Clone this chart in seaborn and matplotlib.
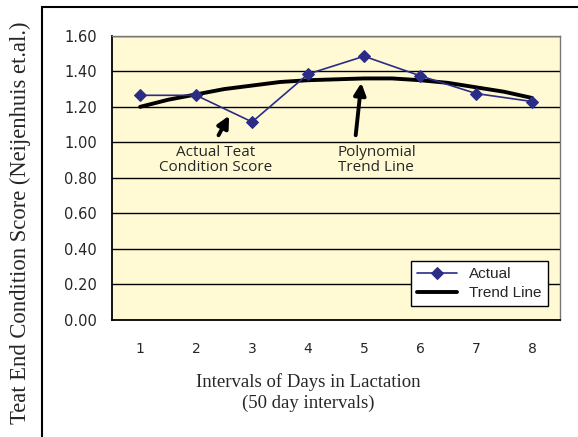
import numpy as np
import pandas as pd
import matplotlib
matplotlib.use('Agg')
import matplotlib.pyplot as plt
import seaborn as sns
from matplotlib.patches import Rectangle

sns.set_style('white')
plt.rcParams['font.family'] = ['DejaVu Sans']

# dados
intervalos = [1, 2, 3, 4, 5, 6, 7, 8]
atual = [1.265, 1.265, 1.115, 1.385, 1.485, 1.375, 1.275, 1.23]
# linha de tendência lida em meios intervalos
tend_x = [1, 1.5, 2, 2.5, 3, 3.5, 4, 4.5, 5, 5.5, 6, 6.5, 7, 7.5, 8]
tend_y = [1.20, 1.24, 1.27, 1.30, 1.32, 1.34, 1.35, 1.355, 1.36, 1.36, 1.35, 1.335, 1.31, 1.285, 1.25]

df_atual = pd.DataFrame({'x': intervalos, 'y': atual})
df_tend = pd.DataFrame({'x': tend_x, 'y': tend_y})

fig = plt.figure(figsize=(5.78, 4.37), dpi=100)
ax = fig.add_axes([0.194, 0.268, 0.775, 0.65])
ax.set_facecolor('#FFFAD4')

for v in np.arange(0.2, 1.61, 0.2):
    ax.axhline(v, color='black', lw=1.0, zorder=1)

sns.lineplot(data=df_tend, x='x', y='y', ax=ax, color='black', lw=2.8,
             label='Trend Line', zorder=3)
sns.lineplot(data=df_atual, x='x', y='y', ax=ax, color='#2B2C86', lw=1.2,
             marker='D', markersize=6.5, markeredgecolor='#2B2C86',
             label='Actual', zorder=4)

ax.set_xlim(0.5, 8.5)
ax.set_ylim(0, 1.6)
ax.set_yticks(np.arange(0, 1.61, 0.2))
ax.set_yticklabels([f'{v:.2f}' for v in np.arange(0, 1.61, 0.2)], fontsize=10.5)
ax.set_xticks(intervalos)
ax.set_xticklabels([str(i) for i in intervalos], fontsize=10)
ax.set_xticks(np.arange(0.5, 8.6, 1), minor=True)
ax.tick_params(axis='x', which='major', length=0, pad=16)
ax.tick_params(axis='x', which='minor', length=6, width=1.2, color='black', direction='out')
ax.tick_params(axis='y', length=6, width=1.2, color='black', direction='out', pad=5)
ax.set_xlabel('')
ax.set_ylabel('')

for s in ['left', 'bottom']:
    ax.spines[s].set_color('black')
    ax.spines[s].set_linewidth(1.3)
for s in ['top', 'right']:
    ax.spines[s].set_color('#777777')
    ax.spines[s].set_linewidth(1.0)

# setas e textos
seta = dict(arrowstyle='-|>,head_length=0.7,head_width=0.35', lw=2.8, color='black',
            shrinkA=0, shrinkB=0)
ax.annotate('', xy=(2.59, 1.15), xytext=(2.40, 1.04), arrowprops=seta)
ax.annotate('', xy=(4.95, 1.335), xytext=(4.85, 1.04), arrowprops=seta)
ax.text(2.35, 0.90, 'Actual Teat\nCondition Score', ha='center', va='center',
        fontsize=11, family='Open Sans', linespacing=1.05)
ax.text(5.22, 0.90, 'Polynomial\nTrend Line', ha='center', va='center',
        fontsize=11, family='Open Sans', linespacing=1.05)

h, l = ax.get_legend_handles_labels()
leg = ax.legend(h[::-1], l[::-1], loc='lower right', bbox_to_anchor=(0.973, 0.049),
                borderaxespad=0, frameon=True, fancybox=False, edgecolor='black',
                facecolor='white', framealpha=1, handlelength=2.6, borderpad=0.4,
                labelspacing=0.3, prop={'family': 'Liberation Sans', 'size': 11})
leg.get_frame().set_linewidth(1.0)

fig.text(0.533, 0.102, 'Intervals of Days in Lactation\n(50 day intervals)',
         ha='center', va='center', fontsize=13.5, family='Liberation Serif', linespacing=1.25)
fig.text(0.036, 0.49, 'Teat End Condition Score (Neijenhuis et.al.)', rotation=90,
         ha='center', va='center', fontsize=16.3, family='Liberation Serif')

fig.patches.append(Rectangle((42 / 578, -0.05), 1.0, (437 - 7) / 437 + 0.05,
                             transform=fig.transFigure, fill=False, edgecolor='black',
                             lw=1.5, zorder=0))

plt.savefig('out.png', dpi=100)
